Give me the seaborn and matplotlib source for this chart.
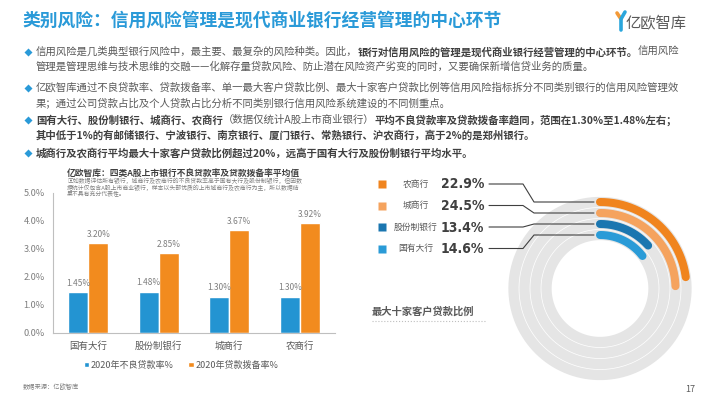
import numpy as np
import pandas as pd
import matplotlib
matplotlib.use("Agg")
import matplotlib.pyplot as plt
from matplotlib import font_manager as fm
import seaborn as sns

# ---- data ----
banks = ["国有大行", "股份制银行", "城商行", "农商行"]
npl_2020 = [1.45, 1.48, 1.30, 1.30]
provision_2020 = [3.20, 2.85, 3.67, 3.92]
series_names = ["2020年不良贷款率%", "2020年贷款拨备率%"]

ring_banks = ["农商行", "城商行", "股份制银行", "国有大行"]
top10_share = [22.9, 24.5, 13.4, 14.6]

BLUE = "#2394D2"
ORANGE = "#F28B1E"
ring_colors = ["#F0841E", "#F5A35E", "#1A76B0", "#2A9BD7"]
TITLE_BLUE = "#2A9AD8"
DARK = "#404040"
GREY = "#595959"
LIGHT = "#7f7f7f"

sns.set_style("white")
plt.rcParams["font.family"] = ["Noto Sans CJK SC", "DejaVu Sans"]
plt.rcParams["axes.unicode_minus"] = False

# narrow bold face for the big percentages, if one is installed
narrow_file = None
for key in ["liberationsansnarrow-bold.", "dejavusanscondensed-bold.", "condensed-bold.", "narrow-bold."]:
    hits = [f.fname for f in fm.fontManager.ttflist if key in f.fname.lower().replace("_", "-")]
    if hits:
        narrow_file = hits[0]
        break
if narrow_file:
    big_font = fm.FontProperties(fname=narrow_file)
    big_width = 43
else:
    big_font = fm.FontProperties(family="Liberation Sans", weight="bold")
    big_width = 46

W, H = 710, 399
fig = plt.figure(figsize=(W / 100, H / 100), dpi=100)

# ---- bar chart ----
df = pd.DataFrame({
    "bank": banks * 2,
    "value": npl_2020 + provision_2020,
    "series": [series_names[0]] * 4 + [series_names[1]] * 4,
})
ax = fig.add_axes([53 / W, 1 - 333 / H, 282 / W, 140 / H])
sns.barplot(data=df, x="bank", y="value", hue="series", palette=[BLUE, ORANGE],
            width=0.57, saturation=1, ax=ax, errorbar=None)
ax.set_ylim(0, 5)
ax.set_yticks(np.arange(0, 5.1, 1))
ax.set_yticklabels([f"{v:.1f}%" for v in np.arange(0, 5.1, 1)])
ax.set_xlabel("")
ax.set_ylabel("")
ax.tick_params(axis="both", length=0, colors=LIGHT, labelsize=6.6)
ax.tick_params(axis="y", pad=6)
ax.tick_params(axis="x", pad=6, labelcolor=GREY, labelsize=6.8)
for s in ["top", "right"]:
    ax.spines[s].set_visible(False)
for s in ["left", "bottom"]:
    ax.spines[s].set_color("#bfbfbf")
    ax.spines[s].set_linewidth(0.8)
for cont in ax.containers:
    ax.bar_label(cont, labels=[f"{b.get_height():.2f}%" for b in cont],
                 padding=3, fontsize=6, color=LIGHT)
leg = ax.legend(loc="center", bbox_to_anchor=(0.454, -0.229), ncol=2, frameon=False,
                handlelength=0.6, handleheight=0.6, handletextpad=0.2,
                columnspacing=1.6, fontsize=6.5)
for t in leg.get_texts():
    t.set_color(GREY)

# ---- radial chart ----
cx, cy, half = 600, 288.5, 100
axp = fig.add_axes([(cx - half) / W, 1 - (cy + half) / H, 2 * half / W, 2 * half / H],
                   projection="polar")
axp.set_theta_zero_location("N")
axp.set_theta_direction(-1)
axp.set_ylim(0, half)
axp.axis("off")
ring_r = [86.5, 75.5, 64.5, 53.5]
full = np.linspace(0, 2 * np.pi, 400)
for r in ring_r:
    axp.plot(full, np.full_like(full, r), color="#e5e5e5", lw=7.4, solid_capstyle="butt")
for r, v, c in zip(ring_r, top10_share, ring_colors):
    th = np.linspace(0, v / 100 * 2 * np.pi, 200)
    axp.plot(th, np.full_like(th, r), color=c, lw=5.8, solid_capstyle="round")

# ---- overlay (pixel coordinates) ----
ov = fig.add_axes([0, 0, 1, 1], zorder=5)
ov.set_xlim(0, W)
ov.set_ylim(H, 0)
ov.axis("off")
ov.patch.set_alpha(0)

renderer = fig.canvas.get_renderer()

# title and logo
ov.text(22, 22, "类别风险：信用风险管理是现代商业银行经营管理的中心环节", fontsize=12.8,
        fontweight="bold", color=TITLE_BLUE, va="center", ha="left")
ov.plot([617, 621], [13, 19], color="#F39A38", lw=2.6, solid_capstyle="round")
ov.plot([625, 621, 621], [12, 19, 30], color="#2AA6DC", lw=2.6, solid_capstyle="round")
ov.text(626, 23, "亿欧智库", fontsize=11, color=GREY, va="center", ha="left")


def rich_line(x, y, parts, size=7.5):
    for txt, bold in parts:
        t = ov.text(x, y, txt, fontsize=size, fontweight="bold" if bold else "normal",
                    color=DARK if bold else GREY, va="center", ha="left")
        x += t.get_window_extent(renderer=renderer).width


bullets = [
    (52, [
        [("信用风险是几类典型银行风险中，最主要、最复杂的风险种类。因此，", False),
         ("银行对信用风险的管理是现代商业银行经营管理的中心环节。", True),
         ("信用风险", False)],
        [("管理是管理思维与技术思维的交融——化解存量贷款风险、防止潜在风险资产劣变的同时，又要确保新增信贷业务的质量。", False)],
    ]),
    (88, [
        [("亿欧智库通过不良贷款率、贷款拨备率、单一最大客户贷款比例、最大十家客户贷款比例等信用风险指标拆分不同类别银行的信用风险管理效", False)],
        [("果；通过公司贷款占比及个人贷款占比分析不同类别银行信用风险系统建设的不同侧重点。", False)],
    ]),
    (120, [
        [("国有大行、股份制银行、城商行、农商行", True),
         ("（数据仅统计A股上市商业银行）", False),
         ("平均不良贷款率及贷款拨备率趋同，范围在1.30%至1.48%左右；", True)],
        [("其中低于1%的有邮储银行、宁波银行、南京银行、厦门银行、常熟银行、沪农商行，高于2%的是郑州银行。", True)],
    ]),
    (153, [
        [("城商行及农商行平均最大十家客户贷款比例超过20%，远高于国有大行及股份制银行平均水平。", True)],
    ]),
]
for y0, lines in bullets:
    ov.plot([28], [y0], marker="D", ms=4.5, color=TITLE_BLUE, mec="none")
    for k, parts in enumerate(lines):
        rich_line(36, y0 + k * 15, parts)

# bar chart title and note
ov.text(67, 173, "亿欧智库：四类A股上市银行不良贷款率及贷款拨备率平均值", fontsize=6.3,
        fontweight="bold", color=DARK, va="center", ha="left")
note = ["▣如数据评估所有银行，城商行及农商行的不良贷款率高于国有大行及股份制银行，但因数",
        "据统计仅包含A股上市商业银行，样本以头部优质的上市城商行及农商行为主，所以数据结",
        "果不具有充分代表性。"]
for k, line in enumerate(note):
    ov.text(67, 181 + k * 6.5, line, fontsize=4.2, color=LIGHT, va="center", ha="left",
            family=["Noto Sans CJK SC", "DejaVu Sans"])

# size the big percentages to the width they take in the slide
probe = ov.text(0, 0, "22.9%", fontproperties=big_font, fontsize=13)
big_size = 13 * big_width / probe.get_window_extent(renderer=renderer).width
probe.remove()

# radial legend with leader lines
for i, (name, v, c, r) in enumerate(zip(ring_banks, top10_share, ring_colors, ring_r)):
    y = 184 + i * 21.5
    ov.plot([382], [y], marker="s", ms=6.3, color=c, mec="none")
    ov.text(416, y, name, fontsize=6.3, color=GREY, va="center", ha="center")
    ov.text(441, y + 0.5, f"{v}%", fontproperties=big_font, fontsize=big_size, color=DARK,
            va="center", ha="left")
    ry = cy - r
    ov.plot([489, 523, 534, 594], [y, y, ry, ry], color=DARK, lw=0.8)

ov.text(372, 312, "最大十家客户贷款比例", fontsize=7.4, fontweight="bold", color=GREY,
        va="center", ha="left")
ov.plot([372, 485], [321, 321], color="#bfbfbf", lw=0.8, ls=":")

# footer
ov.text(23, 387, "数据来源：亿欧智库", fontsize=4.5, color=LIGHT, va="center", ha="left")
ov.text(690, 390, "17", fontsize=6.5, color=GREY, va="center", ha="center")

fig.savefig("out.png", dpi=100)
